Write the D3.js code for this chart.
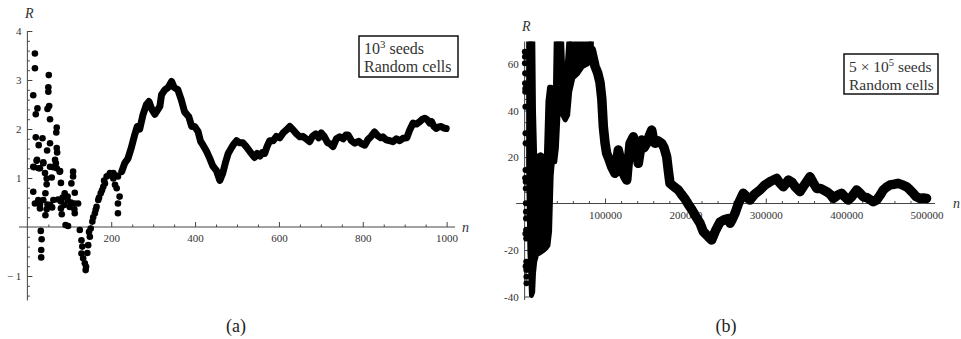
<!DOCTYPE html>
<html><head><meta charset="utf-8">
<script src="https://cdn.jsdelivr.net/npm/d3@7"></script>
<style>body{margin:0;background:#fff}svg{display:block}
svg text{font-family:"Liberation Serif","DejaVu Serif","Noto Serif","Times New Roman",Times,serif}</style>
</head><body>
<svg id="chart" width="961" height="339"></svg>
<script>
// ---------- data ----------
const leftTicksX = [200, 400, 600, 800, 1000];
const leftTicksY = [-1, 1, 2, 3, 4];
const rightTicksX = [100000, 200000, 300000, 400000, 500000];
const rightTicksY = [-40, -20, 20, 40, 60];

const leftLegend = ["10", "3", " seeds", "Random cells"];
const rightLegend = ["5 \u00d7 10", "5", " seeds", "Random cells"];

// panel (a): early scattered points [n, R]
const leftScatter = [
  [18,3.54],[18,3.24],[51,3.10],[14,2.69],[50,2.85],[50,2.76],[24,2.42],[20,2.30],[52,2.47],[48,2.41],
  [54,2.20],[70,2.03],[69,1.93],[20,1.83],[36,1.81],[27,1.67],[54,1.71],[47,1.56],[70,1.61],[71,1.52],
  [23,1.37],[38,1.32],[66,1.37],[14,1.23],[27,1.20],[54,1.23],[70,1.20],[78,1.14],[109,1.13],
  [22,1.35],[38,1.30],[68,1.30],[62,1.22],[16,1.22],[30,1.20],[42,1.10],[77,1.13],[109,1.03],
  [46,0.99],[58,1.01],[80,0.90],[105,0.89],[46,0.87],[14,0.72],[43,0.69],[89,0.69],[113,0.70],
  [96,0.62],[73,0.56],[18,0.48],[30,0.46],[38,0.55],[62,0.55],[48,0.46],[54,0.45],[80,0.52],
  [96,0.54],[113,0.48],[121,0.48],[30,0.38],[46,0.36],[80,0.38],[101,0.41],[112,0.36],[43,0.24],
  [82,0.26],[113,0.28],[91,0.04],[97,0.02],[32,-0.08],[34,-0.25],[33,-0.47],[33,-0.62],
  [125,-0.06],[129,-0.27],[131,-0.40],[129,-0.54],[133,-0.64],[137,-0.74],[139,-0.88],[140,-0.81],
  [145,-0.37],[143,-0.53],[149,-0.20],[151,-0.03],[155,0.11],[161,0.28],[165,0.41],[169,0.55],
  [175,0.69],[181,0.82],[185,0.89],[189,1.03],[197,1.10],[201,1.06],[205,0.99],[205,1.10],[216,1.03],
  [209,0.86],[213,0.79],[220,0.62],[216,0.48],[216,0.28],[193,1.05],[212,1.05],[147,-0.10],[157,0.20],
  [171,0.60],[178,0.75],[183,0.95],[163,0.35],[88,0.45],[104,0.50],[59,0.40],[26,0.55],[84,0.60]
];

// panel (a): continuous part [n, R]
const leftCurve = [
  [225,1.13],[232,1.30],[240,1.40],[248,1.62],[255,1.85],[262,2.05],[268,2.00],[276,2.30],[284,2.50],
  [290,2.56],[297,2.40],[304,2.30],[310,2.38],[316,2.46],[320,2.70],[328,2.80],[336,2.85],[344,2.97],
  [350,2.85],[359,2.80],[367,2.60],[375,2.35],[385,2.25],[392,2.05],[399,2.05],[407,1.95],[413,1.75],
  [419,1.67],[427,1.55],[435,1.40],[442,1.25],[451,1.15],[459,0.95],[466,1.10],[472,1.30],[479,1.50],
  [487,1.62],[493,1.70],[499,1.76],[506,1.72],[514,1.72],[522,1.64],[530,1.55],[536,1.48],[542,1.42],
  [548,1.50],[555,1.45],[560,1.52],[566,1.50],[572,1.65],[578,1.76],[586,1.76],[594,1.85],[602,1.82],
  [610,1.92],[618,1.98],[626,2.05],[634,1.98],[642,1.90],[650,1.84],[657,1.85],[665,1.80],[673,1.74],
  [680,1.85],[688,1.90],[695,1.82],[701,1.92],[708,1.85],[716,1.72],[722,1.70],[729,1.64],[737,1.80],
  [745,1.84],[753,1.80],[760,1.88],[765,1.88],[773,1.76],[781,1.71],[790,1.75],[797,1.70],[805,1.67],
  [812,1.78],[820,1.85],[828,1.94],[836,1.86],[843,1.82],[848,1.84],[856,1.78],[865,1.76],[872,1.74],
  [880,1.80],[888,1.76],[896,1.81],[905,1.82],[912,1.98],[920,2.12],[928,2.10],[936,2.15],[942,2.20],
  [948,2.22],[955,2.18],[960,2.12],[964,2.15],[970,2.05],[975,2.01],[981,2.04],[987,2.05],[993,2.02],
  [999,2.01]
];

// panel (b): first scattered points [n, R]
const rightScatter = [
  [200,65.3],[400,63.1],[300,60.3],[600,56.0],[500,51.7],[800,49.5],[700,48.1],[900,41.6],[1000,30.2],
  [1200,25.9],[1100,14.4],[1300,9.4],[1400,6.5],[1500,0.1],[1600,-3.5],[1700,-6.4],[1800,-11.4],
  [1900,-15.0],[2000,-25.0],[2100,-28.6],[2200,-31.5],[2300,-34.3],[600,11.0],[900,-13.0],[1200,-27.0]
];

// panel (b): dense early region, envelope
const rightEnvN  = [5000, 6500, 8500, 10000, 11000, 12500, 15000, 20000, 24000, 27000, 29000, 31000, 33000, 35000, 37500, 39500, 42000, 45500, 47500, 50500, 53500, 56000, 60000, 66000, 72000, 78000, 83000];
const rightEnvLo = [15, -20, -39.5, -38, -30, -25, -22, -21, -20, -19, -18, -12, 12, 20, 18, 24, 42, 46, 38, 36, 38, 48, 54, 56, 59, 60, 62];
const rightEnvHi = [75, 75, 75, 75, 40, 20, 20, 21, 20, 20, 44, 50, 50, 38, 32, 75, 75, 75, 56, 50, 62, 75, 75, 75, 75, 75, 75];

// panel (b): band [n, R]
const rightCurve = [
  [83000,66],[87600,59],[91000,56],[93800,52],[96000,45],[97900,33],[100000,26],[102000,21.6],[105000,19],
  [108300,15.8],[112400,13],[114500,18],[116500,23],[118500,20],[120800,14.4],[124000,12],[127000,10.1],
  [129000,18],[131100,25.9],[135200,28.7],[138000,24],[141400,17.3],[143500,22],[145600,27.3],[148500,24],
  [151900,25.9],[155000,29],[158100,31.6],[160000,28],[162200,25.9],[166000,27],[170500,25.9],[173500,24],
  [176700,20.1],[178800,14],[180800,8.7],[185000,7.5],[191200,5.8],[195000,4],[199500,2],[203000,0],
  [207800,-2.5],[212000,-5],[218200,-8.5],[222300,-12.1],[228500,-14.3],[232700,-15.7],[237000,-12],
  [243000,-8],[248000,-7],[253400,-6.4],[255500,-8.5],[258000,-7],[261700,-4.2],[266000,0],[272000,4.4],
  [276000,3],[280300,1.5],[286000,4],[292800,5.8],[299000,8],[305200,9.4],[309000,10],[313500,10.8],
  [317000,9],[321800,7.2],[325000,8.5],[328000,10.1],[333000,9],[337000,7],[342500,5.1],[347000,7.5],
  [351000,9.5],[355000,11.5],[359000,9],[363300,6.5],[368000,6.5],[375700,5.1],[380000,4],[384000,2.2],
  [389000,3.5],[394400,4.4],[398000,3],[402600,1.5],[407000,3],[413000,5.8],[417000,4.5],[421300,2.9],
  [426000,2.5],[433700,0.8],[438000,1.5],[442000,3.5],[446100,5.8],[450000,7],[454500,8.0],[460000,8.3],
  [464800,8.7],[470000,8],[475200,7.2],[479000,6],[483500,4.4],[487000,3],[491800,2.2],[496000,2.4],
  [500000,2.2]
];

// ---------- drawing ----------
const svg = d3.select("#chart");
svg.append("rect").attr("width", 961).attr("height", 339).attr("fill", "#fff");
const SERIF = '"Liberation Serif","DejaVu Serif","Noto Serif","Times New Roman",Times,serif';

const xL = d3.scaleLinear().domain([-20, 1020]).range([19, 455]);
const yL = d3.scaleLinear().domain([-1.5, 4]).range([300.5, 31]);
const xR = d3.scaleLinear().domain([-10500, 510500]).range([516.2, 935]);
const yR = d3.scaleLinear().domain([-41.5, 69.7]).range([300, 41.5]);

function minorTicks(lo, hi, step, majorStep) {
  return d3.range(Math.round(lo / step), Math.round(hi / step) + 1)
    .map(i => +(i * step).toFixed(6))
    .filter(v => Math.abs(v / majorStep - Math.round(v / majorStep)) > 1e-6);
}

function drawAxes(x, y, xMajor, xMinor, yMajor, yMinor, fmtY) {
  const g = svg.append("g");
  const y0 = y(0), x0 = x(0);
  g.append("line").attr("x1", x.range()[0]).attr("x2", x.range()[1]).attr("y1", y0).attr("y2", y0)
    .attr("stroke", "#444").attr("stroke-width", 1);
  g.append("line").attr("x1", x0).attr("x2", x0).attr("y1", y.range()[0]).attr("y2", y.range()[1])
    .attr("stroke", "#444").attr("stroke-width", 1);
  const style = sel => {
    sel.attr("font-family", null);
    sel.select(".domain").remove();
    sel.selectAll("line").attr("stroke", "#444");
    sel.selectAll("text").style("font-family", SERIF).attr("font-size", 11).attr("fill", "#333");
  };
  g.append("g").attr("transform", `translate(0,${y0})`)
    .call(d3.axisBottom(x).tickValues(xMinor).tickSizeInner(-2.5).tickSizeOuter(0).tickFormat(""))
    .call(style);
  g.append("g").attr("transform", `translate(0,${y0})`)
    .call(d3.axisBottom(x).tickValues(xMajor).tickSizeInner(-5).tickSizeOuter(0).tickPadding(7.5).tickFormat(d3.format("d")))
    .call(style);
  g.append("g").attr("transform", `translate(${x0},0)`)
    .call(d3.axisLeft(y).tickValues(yMinor).tickSizeInner(-2.5).tickSizeOuter(0).tickFormat(""))
    .call(style);
  g.append("g").attr("transform", `translate(${x0},0)`)
    .call(d3.axisLeft(y).tickValues(yMajor).tickSizeInner(-5).tickSizeOuter(0).tickPadding(6).tickFormat(fmtY))
    .call(style);
}

drawAxes(xL, yL, leftTicksX, minorTicks(50, 1000, 50, 200), leftTicksY,
  minorTicks(-1.4, 3.8, 0.2, 1), d => d < 0 ? "\u2212 " + Math.abs(d) : String(d));
drawAxes(xR, yR, rightTicksX, minorTicks(20000, 500000, 20000, 100000), rightTicksY,
  minorTicks(-40, 65, 5, 20), d => d < 0 ? "-" + Math.abs(d) : String(d));

function italic(x, y, t) {
  svg.append("text").attr("x", x).attr("y", y).style("font-family", SERIF).attr("font-style", "italic")
    .attr("font-size", 14).attr("fill", "#333").text(t);
}
italic(25, 18, "R");
italic(462, 232, "n");
italic(522, 31, "R");
italic(953, 208, "n");

// panel (a) data
svg.append("g").selectAll("circle").data(leftScatter).join("circle")
  .attr("cx", d => xL(d[0])).attr("cy", d => yL(d[1])).attr("r", 3.3).attr("fill", "#000");
svg.append("path").datum(leftCurve)
  .attr("d", d3.line().x(d => xL(d[0])).y(d => yL(d[1])))
  .attr("fill", "none").attr("stroke", "#000").attr("stroke-width", 7)
  .attr("stroke-linejoin", "round").attr("stroke-linecap", "round");

// panel (b) data (clipped to plot range)
svg.append("clipPath").attr("id", "clipR").append("rect")
  .attr("x", 505).attr("y", yR.range()[1]).attr("width", 440).attr("height", yR.range()[0] - yR.range()[1]);
const gR = svg.append("g").attr("clip-path", "url(#clipR)");
const env = rightEnvN.map((n, i) => [n, rightEnvLo[i], rightEnvHi[i]]);
gR.append("path").datum(env)
  .attr("d", d3.area().x(d => xR(d[0])).y0(d => yR(d[1])).y1(d => yR(d[2])))
  .attr("fill", "#000").attr("stroke", "#000").attr("stroke-width", 5).attr("stroke-linejoin", "round");
gR.append("path").datum(rightCurve)
  .attr("d", d3.line().x(d => xR(d[0])).y(d => yR(d[1])))
  .attr("fill", "none").attr("stroke", "#000").attr("stroke-width", 9.5)
  .attr("stroke-linejoin", "round").attr("stroke-linecap", "round");
gR.selectAll("circle").data(rightScatter).join("circle")
  .attr("cx", d => xR(d[0])).attr("cy", d => yR(d[1])).attr("r", 3).attr("fill", "#000");

function legend(x, y, w, h, parts, fs) {
  const g = svg.append("g");
  g.append("rect").attr("x", x).attr("y", y).attr("width", w).attr("height", h)
    .attr("fill", "#fff").attr("stroke", "#111").attr("stroke-width", 1.5);
  const t1 = g.append("text").attr("x", x + 5).attr("y", y + 18).style("font-family", SERIF)
    .attr("font-size", fs).attr("fill", "#333");
  t1.append("tspan").text(parts[0]);
  t1.append("tspan").attr("dy", -6).attr("font-size", fs * 0.68).text(parts[1]);
  t1.append("tspan").attr("dy", 6).text(parts[2]);
  g.append("text").attr("x", x + 5).attr("y", y + 36).style("font-family", SERIF)
    .attr("font-size", fs).attr("fill", "#333").text(parts[3]);
}
legend(359, 36, 99, 41, leftLegend, 16);
legend(844, 54, 94, 40, rightLegend, 15.5);

svg.append("text").attr("x", 236).attr("y", 332).attr("text-anchor", "middle")
  .style("font-family", SERIF).attr("font-size", 18).attr("fill", "#222").text("(a)");
svg.append("text").attr("x", 726).attr("y", 332).attr("text-anchor", "middle")
  .style("font-family", SERIF).attr("font-size", 18).attr("fill", "#222").text("(b)");
</script>
</body></html>
